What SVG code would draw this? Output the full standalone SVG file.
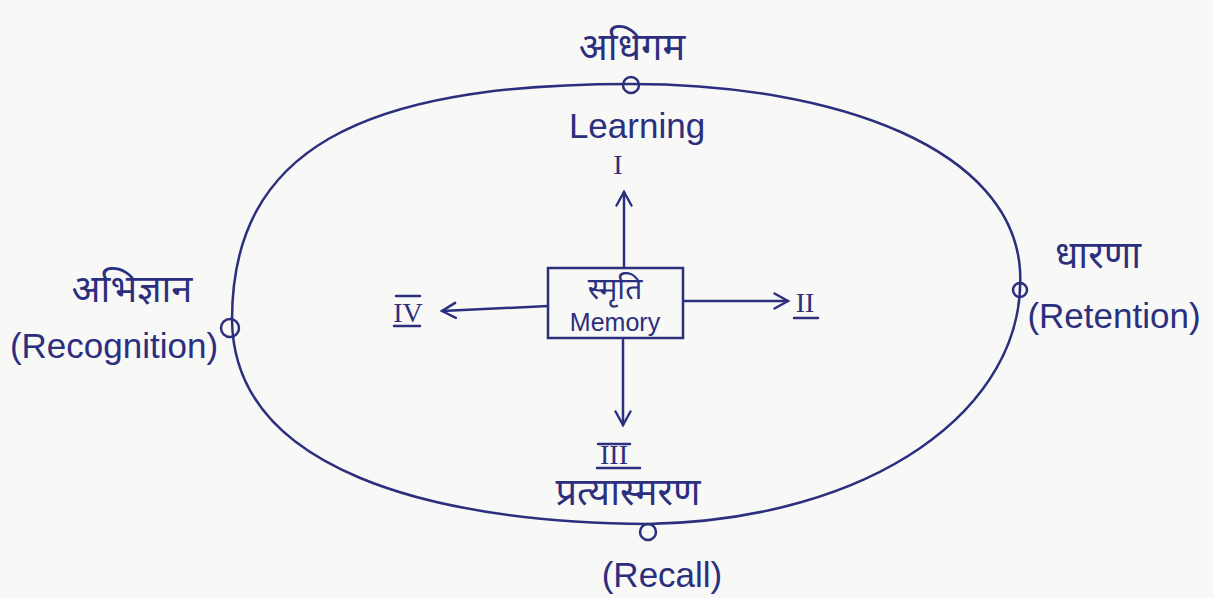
<svg xmlns="http://www.w3.org/2000/svg" width="1213" height="598" viewBox="0 0 1213 598">
<style>
.ln{fill:none;stroke:#2b2f7e;stroke-width:2.5;stroke-linecap:round}
.t{font-family:"Liberation Sans","Noto Sans","Noto Sans Devanagari",sans-serif;fill:#2b2f7e}
.hi{font-size:38px}
.en{font-size:35px}
.num{font-family:"Liberation Serif",serif;fill:#2b2f7e;font-size:28px}
</style>
<defs>
<marker id="ah" viewBox="0 0 12 12" refX="10" refY="6" markerWidth="18" markerHeight="18" orient="auto" markerUnits="userSpaceOnUse">
<path d="M1,1 L10,6 L1,11" fill="none" stroke="#2b2f7e" stroke-width="1.6" stroke-linecap="round"/>
</marker>
</defs>
<rect width="1213" height="598" fill="#f8f8f6"/>
<g id="cycle">
<path class="ln" d="M630,84 C840,84 1012,150 1020,270 C1028,410 870,520 648,524 C430,522 234,470 232,320 C232,150 360,84 630,84 Z"/>
</g>
<g id="connectors">
<line class="ln" x1="624" y1="266" x2="624" y2="192" marker-end="url(#ah)"/>
<line class="ln" x1="684" y1="301" x2="788" y2="301" marker-end="url(#ah)"/>
<line class="ln" x1="623" y1="340" x2="623" y2="425" marker-end="url(#ah)"/>
<line class="ln" x1="548" y1="306" x2="442" y2="311" marker-end="url(#ah)"/>
</g>
<g id="memory">
<rect class="ln" x="548" y="268" width="135" height="70"/>
<text class="t" x="615" y="299" text-anchor="middle" font-size="30">स्मृति</text>
<text class="t" x="615" y="331" text-anchor="middle" font-size="25">Memory</text>
</g>
<g id="learning">
<circle class="ln" cx="631" cy="85" r="8"/>
<text class="t hi" x="632" y="60" text-anchor="middle">अधिगम</text>
<text class="t en" x="637" y="138" text-anchor="middle">Learning</text>
<text class="num" x="618" y="174" text-anchor="middle">I</text>
</g>
<g id="retention">
<circle class="ln" cx="1020" cy="290" r="7"/>
<text class="t hi" x="1098" y="268" text-anchor="middle">धारणा</text>
<text class="t en" x="1114" y="328" text-anchor="middle">(Retention)</text>
<text class="num" x="805" y="312" text-anchor="middle">II</text>
<line class="ln" x1="794" y1="318" x2="818" y2="318"/>
</g>
<g id="recall">
<circle class="ln" cx="648" cy="532" r="8"/>
<text class="num" x="614" y="464" text-anchor="middle">III</text>
<line class="ln" x1="598" y1="444" x2="630" y2="444"/>
<line class="ln" x1="597" y1="468" x2="640" y2="468"/>
<text class="t hi" x="628" y="505" text-anchor="middle">प्रत्यास्मरण</text>
<text class="t en" x="662" y="587" text-anchor="middle">(Recall)</text>
</g>
<g id="recognition">
<circle class="ln" cx="230" cy="328" r="9"/>
<text class="t hi" x="132" y="302" text-anchor="middle">अभिज्ञान</text>
<text class="t en" x="114" y="358" text-anchor="middle">(Recognition)</text>
<text class="num" x="408" y="322" text-anchor="middle">IV</text>
<line class="ln" x1="396" y1="296" x2="420" y2="296"/>
<line class="ln" x1="394" y1="326" x2="420" y2="326"/>
</g>
</svg>
